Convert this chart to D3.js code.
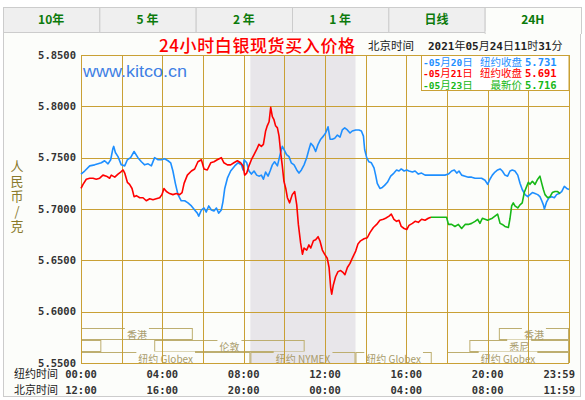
<!DOCTYPE html>
<html>
<head>
<meta charset="utf-8">
<script src="https://cdn.jsdelivr.net/npm/d3@7/dist/d3.min.js"></script>
<style>
  body { margin: 0; background: #fff; }
  .mono { font-family: "DejaVu Sans Mono", monospace; font-weight: bold; }
  .cjk { font-family: "Noto Sans CJK SC", sans-serif; }
</style>
</head>
<body>
<script>
// tabs + labels
var tabNames = ["10年", "5 年", "2 年", "1 年", "日线", "24H"];
var yTicks = [5.85, 5.80, 5.75, 5.70, 5.65, 5.60, 5.55];
var tickHours = [0, 4, 8, 12, 16, 20, 24];
var nyTimes = ["00:00", "04:00", "08:00", "12:00", "16:00", "20:00", "23:59"];
var bjTimes = ["12:00", "16:00", "20:00", "00:00", "04:00", "08:00", "11:59"];

var legendDates = ["-05月20日", "-05月21日", "-05月23日"];
var legendKinds = ["纽约收盘", "纽约收盘", "最新价"];
var legendValues = ["5.731", "5.691", "5.716"];

// market sessions (NY hours)
var sessions = [
  {row: 0, start: 0, end: 5.5, label: "香港"},
  {row: 0, start: 20.55, end: 24, label: "香港"},
  {row: 1, start: 0, end: 1, label: ""},
  {row: 1, start: 3.6, end: 11, label: "伦敦"},
  {row: 1, start: 19.1, end: 24, label: "悉尼"},
  {row: 2, start: 0, end: 8.33, label: "纽约 Globex"},
  {row: 2, start: 8.33, end: 13.5, label: "纽约 NYMEX"},
  {row: 2, start: 13.5, end: 17.25, label: "纽约 Globex"},
  {row: 2, start: 18, end: 24, label: "纽约 Globex"}
];
var nymexHours = [8.33, 13.5];

// [hour NY, price]
var may20 = [[0.00,5.734],[0.18,5.737],[0.43,5.742],[0.67,5.743],[0.84,5.744],[1.00,5.745],[1.16,5.747],[1.33,5.744],[1.46,5.748],[1.57,5.759],[1.61,5.761],[1.69,5.755],[1.82,5.751],[1.98,5.743],[2.15,5.742],[2.28,5.748],[2.44,5.750],[2.61,5.756],[2.80,5.750],[2.97,5.746],[3.13,5.743],[3.30,5.744],[3.46,5.742],[3.62,5.750],[3.79,5.748],[3.95,5.748],[4.11,5.749],[4.28,5.747],[4.41,5.745],[4.52,5.737],[4.64,5.725],[4.77,5.714],[4.93,5.708],[5.10,5.708],[5.26,5.706],[5.43,5.703],[5.59,5.699],[5.72,5.696],[5.79,5.693],[5.92,5.699],[6.05,5.701],[6.16,5.697],[6.28,5.703],[6.41,5.699],[6.54,5.698],[6.66,5.701],[6.77,5.696],[6.90,5.699],[6.98,5.707],[7.07,5.720],[7.20,5.730],[7.36,5.737],[7.56,5.742],[7.72,5.745],[7.89,5.743],[7.97,5.738],[8.02,5.748],[8.15,5.745],[8.26,5.737],[8.38,5.734],[8.51,5.737],[8.64,5.733],[8.75,5.732],[8.87,5.733],[8.97,5.729],[9.08,5.736],[9.20,5.732],[9.30,5.737],[9.41,5.743],[9.52,5.746],[9.66,5.742],[9.79,5.753],[9.90,5.761],[9.98,5.758],[10.11,5.753],[10.23,5.751],[10.34,5.745],[10.48,5.743],[10.61,5.738],[10.72,5.735],[10.84,5.738],[10.97,5.743],[11.10,5.750],[11.21,5.758],[11.30,5.764],[11.43,5.761],[11.54,5.756],[11.66,5.763],[11.79,5.768],[11.92,5.771],[12.03,5.774],[12.15,5.780],[12.25,5.768],[12.36,5.768],[12.48,5.769],[12.61,5.772],[12.74,5.770],[12.85,5.777],[12.97,5.779],[13.10,5.777],[13.23,5.774],[13.34,5.776],[13.51,5.777],[13.67,5.777],[13.79,5.776],[13.89,5.771],[13.95,5.758],[14.05,5.750],[14.16,5.746],[14.28,5.745],[14.41,5.740],[14.49,5.733],[14.57,5.725],[14.70,5.720],[14.82,5.721],[14.93,5.723],[15.07,5.726],[15.23,5.732],[15.39,5.735],[15.52,5.738],[15.64,5.737],[15.75,5.739],[15.89,5.737],[16.02,5.738],[16.13,5.737],[16.30,5.736],[16.43,5.737],[16.59,5.734],[16.75,5.735],[16.92,5.733],[17.25,5.733],[17.57,5.733],[17.90,5.733],[18.07,5.734],[18.23,5.737],[18.36,5.738],[18.48,5.735],[18.59,5.737],[18.72,5.733],[18.89,5.732],[19.05,5.731],[19.21,5.731],[19.38,5.730],[19.54,5.730],[19.70,5.730],[19.87,5.728],[20.00,5.724],[20.11,5.729],[20.23,5.733],[20.36,5.736],[20.49,5.738],[20.61,5.739],[20.72,5.737],[20.85,5.733],[20.98,5.732],[21.10,5.737],[21.21,5.738],[21.34,5.737],[21.48,5.733],[21.59,5.725],[21.70,5.719],[21.84,5.714],[21.97,5.712],[22.08,5.714],[22.20,5.716],[22.33,5.715],[22.46,5.714],[22.57,5.712],[22.66,5.708],[22.74,5.704],[22.79,5.700],[22.90,5.707],[23.02,5.711],[23.15,5.712],[23.28,5.711],[23.39,5.714],[23.51,5.715],[23.64,5.717],[23.77,5.722],[23.89,5.720],[24.00,5.719]];

var may21 = [[0.00,5.720],[0.10,5.724],[0.26,5.729],[0.43,5.730],[0.59,5.730],[0.75,5.729],[0.92,5.730],[1.08,5.733],[1.25,5.732],[1.41,5.730],[1.49,5.733],[1.66,5.731],[1.82,5.734],[1.95,5.736],[2.07,5.738],[2.15,5.735],[2.28,5.726],[2.39,5.724],[2.51,5.720],[2.61,5.712],[2.72,5.713],[2.89,5.711],[3.05,5.711],[3.21,5.708],[3.38,5.710],[3.54,5.709],[3.70,5.710],[3.87,5.711],[3.98,5.714],[4.08,5.720],[4.20,5.717],[4.36,5.715],[4.52,5.714],[4.69,5.715],[4.85,5.714],[4.97,5.716],[5.07,5.725],[5.23,5.733],[5.43,5.737],[5.59,5.739],[5.75,5.746],[5.92,5.748],[6.05,5.739],[6.21,5.738],[6.38,5.745],[6.54,5.746],[6.70,5.748],[6.90,5.750],[7.03,5.745],[7.20,5.743],[7.36,5.743],[7.52,5.745],[7.69,5.747],[7.85,5.745],[7.97,5.742],[8.05,5.733],[8.15,5.735],[8.26,5.742],[8.38,5.748],[8.51,5.753],[8.64,5.758],[8.75,5.763],[8.87,5.761],[8.97,5.763],[9.08,5.776],[9.16,5.781],[9.25,5.785],[9.33,5.799],[9.41,5.790],[9.49,5.787],[9.57,5.781],[9.66,5.779],[9.74,5.771],[9.82,5.755],[9.90,5.742],[9.98,5.727],[10.07,5.720],[10.15,5.711],[10.26,5.706],[10.39,5.714],[10.51,5.717],[10.61,5.704],[10.69,5.685],[10.80,5.667],[10.89,5.656],[10.97,5.662],[11.10,5.660],[11.21,5.665],[11.30,5.662],[11.43,5.669],[11.54,5.670],[11.66,5.673],[11.75,5.669],[11.87,5.660],[11.98,5.656],[12.11,5.652],[12.20,5.643],[12.28,5.623],[12.33,5.617],[12.41,5.626],[12.52,5.634],[12.64,5.639],[12.77,5.640],[12.90,5.638],[12.98,5.636],[13.10,5.643],[13.23,5.647],[13.34,5.652],[13.51,5.659],[13.62,5.666],[13.75,5.669],[13.92,5.671],[14.08,5.672],[14.21,5.677],[14.38,5.682],[14.54,5.685],[14.70,5.689],[14.87,5.690],[14.98,5.691],[15.15,5.693],[15.26,5.695],[15.39,5.690],[15.52,5.688],[15.64,5.689],[15.75,5.683],[15.89,5.681],[16.02,5.680],[16.13,5.684],[16.30,5.686],[16.43,5.688],[16.59,5.687],[16.75,5.690],[16.92,5.689],[17.08,5.691],[17.21,5.692]];

var may23 = [[17.21,5.692],[17.57,5.692],[17.98,5.692],[18.07,5.685],[18.23,5.685],[18.39,5.683],[18.56,5.685],[18.72,5.681],[18.89,5.685],[19.05,5.685],[19.21,5.686],[19.38,5.688],[19.51,5.690],[19.62,5.686],[19.74,5.691],[19.87,5.690],[20.00,5.689],[20.11,5.690],[20.23,5.691],[20.36,5.693],[20.49,5.695],[20.61,5.686],[20.72,5.685],[20.85,5.683],[21.02,5.682],[21.10,5.691],[21.18,5.703],[21.26,5.706],[21.34,5.703],[21.48,5.701],[21.59,5.704],[21.70,5.706],[21.80,5.716],[21.92,5.722],[22.00,5.726],[22.08,5.724],[22.20,5.727],[22.33,5.724],[22.46,5.729],[22.57,5.732],[22.66,5.725],[22.74,5.719],[22.82,5.714],[22.95,5.711],[23.07,5.712],[23.18,5.716],[23.31,5.717],[23.44,5.717],[23.56,5.715]];

var seriesColors = ["#1e8fff", "#ff0000", "#17b817"];

var W = 585, H = 400;
var grid = "#c9a035", bg = "#fcfdfa", shade = "#e8e6ea";

var svg = d3.select("body").append("svg")
    .attr("width", W)
    .attr("height", H);

var x = d3.scaleLinear().domain([0, 24]).range([81, 569]);
var y = d3.scaleLinear().domain([5.55, 5.85]).range([363, 55]);

// ascii runs in bold mono, the rest in CJK font
function mixed(sel, str, monoSize) {
  var runs = str.match(/[\x00-\x7f]+|[^\x00-\x7f]+/g);
  runs.forEach(function(r) {
    var isAscii = /^[\x00-\x7f]/.test(r);
    var t = sel.append("tspan").attr("class", isAscii ? "mono" : "cjk").text(r);
    if (isAscii && monoSize) t.style("font-size", monoSize);
  });
  return sel;
}

// frame
svg.append("rect")
    .attr("x", 3.5).attr("y", 32.5)
    .attr("width", 577).attr("height", 364)
    .attr("fill", bg).attr("stroke", "#cccccc");

// tabs
var tabX = d3.scaleBand().domain(tabNames).range([3, 581]);
var tab = svg.selectAll(".tab")
    .data(tabNames)
  .enter().append("g")
    .attr("class", "tab")
    .attr("transform", function(d) { return "translate(" + tabX(d) + ",0)"; });

tab.append("rect")
    .attr("x", 0.5).attr("y", 7.5)
    .attr("width", tabX.bandwidth())
    .attr("height", function(d, i) { return i == tabNames.length - 1 ? 26 : 25; })
    .attr("fill", function(d, i) { return i == tabNames.length - 1 ? bg : "#efefef"; })
    .attr("stroke", "#cccccc");
// hide bottom edge of active tab
svg.append("rect")
    .attr("x", tabX("24H") + 1).attr("y", 31)
    .attr("width", tabX.bandwidth() - 1).attr("height", 3)
    .attr("fill", bg);

tab.append("text")
    .attr("x", tabX.bandwidth() / 2)
    .attr("y", 20)
    .attr("dy", "0.35em")
    .attr("text-anchor", "middle")
    .attr("class", "cjk")
    .style("font-size", "12px")
    .style("font-weight", "bold")
    .attr("fill", "#0b7a0b")
    .text(function(d) { return d; });

// NYMEX shade
svg.append("rect")
    .attr("x", x(nymexHours[0])).attr("y", y(5.85))
    .attr("width", x(nymexHours[1]) - x(nymexHours[0]))
    .attr("height", y(5.55) - y(5.85))
    .attr("fill", shade);

// session boxes
var rowTop = [328.5, 340.5, 352.5], rowH = 11;
var sess = svg.selectAll(".session")
    .data(sessions)
  .enter().append("g")
    .attr("class", "session");
sess.append("rect")
    .attr("x", function(d) { return x(d.start) + 0.5; })
    .attr("y", function(d) { return rowTop[d.row]; })
    .attr("width", function(d) { return x(d.end) - x(d.start) - 1; })
    .attr("height", rowH)
    .attr("fill", "none")
    .attr("stroke", "#bdae70");
sess.each(function(d) {
  if (!d.label) return;
  var g = d3.select(this);
  var cx = (x(d.start) + x(d.end)) / 2;
  var t = g.append("text")
      .attr("x", cx)
      .attr("y", rowTop[d.row] + rowH / 2 + 1)
      .attr("dy", "0.35em")
      .attr("text-anchor", "middle")
      .attr("class", "cjk")
      .style("font-size", "10px")
      .attr("fill", "#a89b6a")
      .text(d.label);
  var b = t.node().getBBox();
  var inShade = cx > x(nymexHours[0]) && cx < x(nymexHours[1]);
  g.insert("rect", "text")
      .attr("x", b.x - 2).attr("y", rowTop[d.row] - 1)
      .attr("width", b.width + 4).attr("height", 3)
      .attr("fill", inShade ? shade : bg);
});

// grid
svg.selectAll(".hgrid")
    .data(yTicks)
  .enter().append("line")
    .attr("x1", 81).attr("x2", 569)
    .attr("y1", function(d) { return Math.round(y(d)) + 0.5; })
    .attr("y2", function(d) { return Math.round(y(d)) + 0.5; })
    .attr("stroke", grid);
svg.selectAll(".vgrid")
    .data(d3.range(0, 25, 2))
  .enter().append("line")
    .attr("x1", function(d) { return Math.round(x(d)) + 0.5; })
    .attr("x2", function(d) { return Math.round(x(d)) + 0.5; })
    .attr("y1", 55).attr("y2", 363)
    .attr("stroke", grid);

// y labels
svg.selectAll(".ylab")
    .data(yTicks)
  .enter().append("text")
    .attr("class", "mono")
    .attr("x", 76)
    .attr("y", function(d) { return y(d); })
    .attr("dy", "0.35em")
    .attr("text-anchor", "end")
    .style("font-size", "10.5px")
    .attr("fill", "#333")
    .text(function(d) { return d3.format(".4f")(d); });

// y title, stacked
svg.selectAll(".ytitle")
    .data("人民币/克".split(""))
  .enter().append("text")
    .attr("class", "cjk")
    .attr("x", 17)
    .attr("y", function(d, i) { return 166 + i * 15; })
    .attr("dy", "0.35em")
    .attr("text-anchor", "middle")
    .style("font-size", "13px")
    .attr("fill", "#8a7a2c")
    .text(function(d) { return d; });

// time rows
var timeRows = [["纽约时间", nyTimes, 374], ["北京时间", bjTimes, 390]];
timeRows.forEach(function(r) {
  svg.append("text")
      .attr("class", "cjk")
      .attr("x", 14).attr("y", r[2])
      .attr("dy", "0.35em")
      .style("font-size", "11px")
      .attr("fill", "#222")
      .text(r[0]);
  svg.selectAll(null)
      .data(r[1])
    .enter().append("text")
      .attr("class", "mono")
      .attr("x", function(d, i) { return i == r[1].length - 1 ? x(tickHours[i]) + 6 : x(tickHours[i]); })
      .attr("y", r[2])
      .attr("dy", "0.35em")
      .attr("text-anchor", function(d, i) { return i == r[1].length - 1 ? "end" : "middle"; })
      .style("font-size", "10.5px")
      .attr("fill", "#333")
      .text(function(d) { return d; });
});

// title + header
svg.append("text")
    .attr("class", "cjk")
    .attr("x", 159).attr("y", 46)
    .attr("dy", "0.35em")
    .attr("textLength", 196)
    .attr("lengthAdjust", "spacing")
    .style("font-size", "17px")
    .style("font-weight", "500")
    .attr("fill", "#ff0000")
    .text("24小时白银现货买入价格");
svg.append("text")
    .attr("class", "cjk")
    .attr("x", 368).attr("y", 46)
    .attr("dy", "0.35em")
    .style("font-size", "11.5px")
    .attr("fill", "#222")
    .text("北京时间");
mixed(svg.append("text")
    .attr("x", 428).attr("y", 46)
    .attr("dy", "0.35em")
    .style("font-size", "11px")
    .attr("fill", "#222"), "2021年05月24日11时31分");

svg.append("text")
    .attr("x", 83).attr("y", 71)
    .attr("dy", "0.35em")
    .attr("textLength", 104)
    .attr("lengthAdjust", "spacingAndGlyphs")
    .style("font-family", "Liberation Sans, Arial, sans-serif")
    .style("font-size", "16px")
    .attr("fill", "#3f7fe4")
    .text("www.kitco.cn");

// legend box
svg.append("rect")
    .attr("x", 421.5).attr("y", 55.5)
    .attr("width", 147.5).attr("height", 35)
    .attr("fill", "#ffffff")
    .attr("stroke", grid);
legendDates.forEach(function(d, i) {
  var ly = 62 + i * 11.5;
  mixed(svg.append("text")
      .attr("x", 423).attr("y", ly)
      .attr("dy", "0.35em")
      .style("font-size", "10.5px")
      .attr("fill", seriesColors[i]), d, "9.5px");
  svg.append("text")
      .attr("class", "cjk")
      .attr("x", 522).attr("y", ly)
      .attr("dy", "0.35em")
      .attr("text-anchor", "end")
      .style("font-size", "10.5px")
      .attr("fill", seriesColors[i])
      .text(legendKinds[i]);
  svg.append("text")
      .attr("class", "mono")
      .attr("x", 525).attr("y", ly)
      .attr("dy", "0.35em")
      .style("font-size", "10.5px")
      .attr("fill", seriesColors[i])
      .text(legendValues[i]);
});

// price lines
var line = d3.line()
    .x(function(d) { return x(d[0]); })
    .y(function(d) { return y(d[1]); });

[may20, may21, may23].forEach(function(s, i) {
  svg.append("path")
      .datum(s)
      .attr("d", line)
      .attr("fill", "none")
      .attr("stroke", seriesColors[i])
      .attr("stroke-width", 1.6)
      .attr("stroke-linejoin", "round");
});
</script>
</body>
</html>
